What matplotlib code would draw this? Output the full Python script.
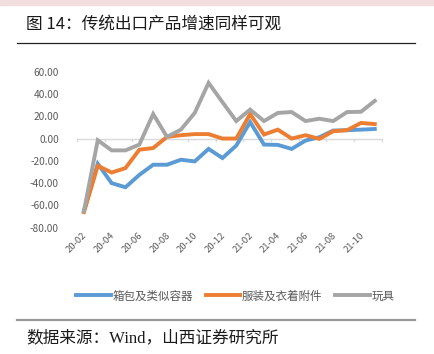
import matplotlib
matplotlib.use("Agg")
import matplotlib.pyplot as plt
from matplotlib.lines import Line2D
from matplotlib.patches import Rectangle

plt.rcParams['font.family'] = ['Noto Sans CJK SC', 'DejaVu Sans']

# monthly yoy growth (%), 20-02 .. 21-11
months = ["20-02", "20-03", "20-04", "20-05", "20-06", "20-07", "20-08", "20-09",
          "20-10", "20-11", "20-12", "21-01", "21-02", "21-03", "21-04", "21-05",
          "21-06", "21-07", "21-08", "21-09", "21-10", "21-11"]
bags = [-65, -22.6, -40, -43.7, -32.6, -23.5, -23.5, -19, -20.5, -9.3, -17.5,
        -6.3, 14.8, -5.4, -5.7, -9.3, -1.8, 1.2, 7.2, 7.5, 8.0, 8.6]
apparel = [-66, -24.4, -30.5, -26.5, -10, -8.5, 1.5, 3, 4, 4, 0,
           0, 22, 3.6, 8, 0, 3, -0.3, 6.6, 7.5, 14, 13]
toys = [-65, -1.5, -10.6, -10.6, -5.4, 22, 1.5, 8, 23, 50, 32.7,
        15.7, 26, 15.7, 23, 23.8, 15.7, 17.8, 15.7, 23.8, 24, 33.8]
series_names = ["箱包及类似容器", "服装及衣着附件", "玩具"]
colors = ["#5B9BD5", "#ED7D31", "#A5A5A5"]
yticks = [60, 40, 20, 0, -20, -40, -60, -80]

fig = plt.figure(figsize=(4.35, 3.54), dpi=100)
W, H = 435, 354

# pink band at top
fig.patches.append(Rectangle((0, 1 - 5 / H), 1, 5 / H, transform=fig.transFigure,
                             color="#F2DEDE", zorder=0))
fig.text(26 / W, 1 - 24 / H, "图 14：传统出口产品增速同样可观", fontsize=12,
         color="#1a1a1a", va="center", ha="left")
fig.add_artist(Line2D([17 / W, 415 / W], [1 - 43 / H] * 2, color="#222222", lw=0.9))

ax = fig.add_axes([77 / W, 1 - 227.7 / H, (381.7 - 77) / W, (227.7 - 71.7) / H])
x = list(range(len(months)))
for vals, c, name in zip([bags, apparel, toys], colors, series_names):
    ax.plot(x, vals, color=c, lw=2.8, label=name, solid_joinstyle="miter")

ax.set_xlim(-0.5, len(months) - 0.5)
ax.set_ylim(-80, 60)
for s in ax.spines.values():
    s.set_visible(False)
ax.axhline(0, color="#D9D9D9", lw=1, zorder=0)
ax.set_yticks(yticks)
ax.set_yticklabels([f"{v:.2f}" for v in yticks], fontsize=7.3, color="#595959")
ax.tick_params(axis="y", length=0, pad=13)
ax.set_xticks([])
# category tick marks on the zero line
for b in [i - 0.5 for i in range(0, len(months) + 1, 2)]:
    ax.plot([b, b], [0, -2.2], color="#D9D9D9", lw=1, zorder=0, clip_on=False)
for i in range(0, len(months), 2):
    ax.text(i + 0.35, -83, months[i], rotation=45, ha="right", va="top",
            fontsize=6.8, color="#595959")

handles, labels = ax.get_legend_handles_labels()
fig.legend(handles, labels, loc="center", bbox_to_anchor=(0.541, 1 - 296 / H),
           ncol=3, frameon=False, fontsize=8.3, labelcolor="#595959",
           handlelength=3.0, handletextpad=0.15, columnspacing=1.1)

fig.add_artist(Line2D([17 / W, 415 / W], [1 - 320 / H] * 2, color="#999999", lw=1.6))
fig.text(26 / W, 1 - 338 / H, "数据来源：Wind，山西证券研究所", fontsize=12,
         color="#1a1a1a", va="center", ha="left",
         family=["Liberation Serif", "Noto Sans CJK SC"])

fig.savefig("out.png", dpi=100)
